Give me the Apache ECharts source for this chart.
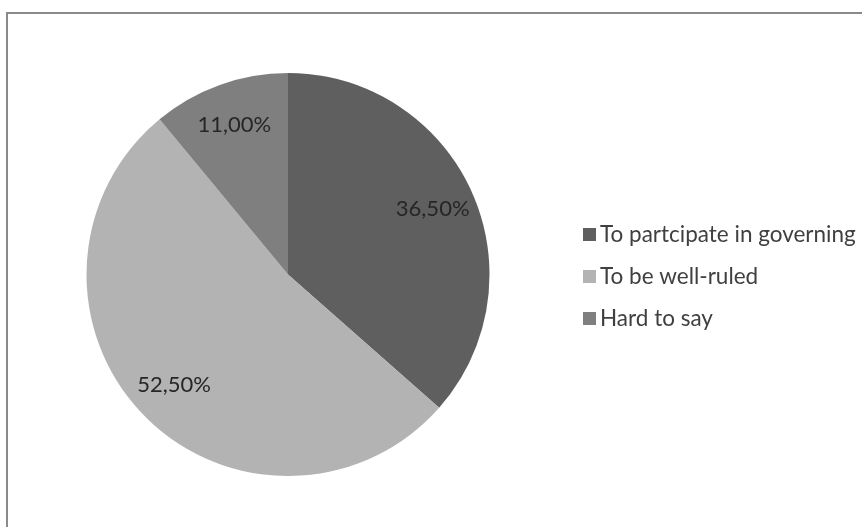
<!DOCTYPE html>
<html>
<head>
<meta charset="utf-8">
<script src="https://cdn.jsdelivr.net/npm/echarts@6/dist/echarts.min.js"></script>
<style>
html,body{margin:0;padding:0;background:#fff;}
#chart{width:862px;height:527px;}
</style>
</head>
<body>
<div id="chart"></div>
<script>
var categories = ['To partcipate in governing', 'To be well-ruled', 'Hard to say'];
var values = [36.5, 52.5, 11.0];
var labelsText = ['36,50%', '52,50%', '11,00%'];
var colors = ['#5f5f5f', '#b3b3b3', '#7f7f7f'];

var chart = echarts.init(document.getElementById('chart'));
var dataMain = categories.map(function (c, i) {
  return { name: c, value: values[i], itemStyle: { color: colors[i] } };
});
var dataLabels = categories.map(function (c, i) {
  return { name: c, value: values[i], itemStyle: { color: 'rgba(0,0,0,0)' } };
});
chart.setOption({
  animation: false,
  backgroundColor: '#ffffff',
  graphic: [{
    type: 'rect',
    shape: { x: 7, y: 13, width: 880, height: 540 },
    style: { fill: 'none', stroke: '#8a8a8a', lineWidth: 2 },
    silent: true
  }],
  legend: {
    orient: 'vertical',
    left: 578,
    top: 218,
    icon: 'rect',
    itemWidth: 13,
    itemHeight: 13,
    itemGap: 19,
    textStyle: { fontFamily: 'Lato', fontSize: 22.5, color: '#404040', padding: [0, 0, 0, -1] },
    data: categories
  },
  series: [{
    type: 'pie',
    center: [288, 274.5],
    radius: [0, 201.5],
    startAngle: 90,
    clockwise: true,
    label: { show: false },
    labelLine: { show: false },
    emphasis: { disabled: true },
    data: dataMain
  }, {
    type: 'pie',
    center: [288, 274.5],
    radius: [110, 201.5],
    startAngle: 90,
    clockwise: true,
    silent: true,
    label: {
      show: true,
      position: 'inside',
      fontFamily: 'Lato',
      fontSize: 22,
      color: '#262626',
      formatter: function (p) { return labelsText[p.dataIndex]; }
    },
    labelLine: { show: false },
    emphasis: { disabled: true },
    data: dataLabels
  }]
});
</script>
</body>
</html>
